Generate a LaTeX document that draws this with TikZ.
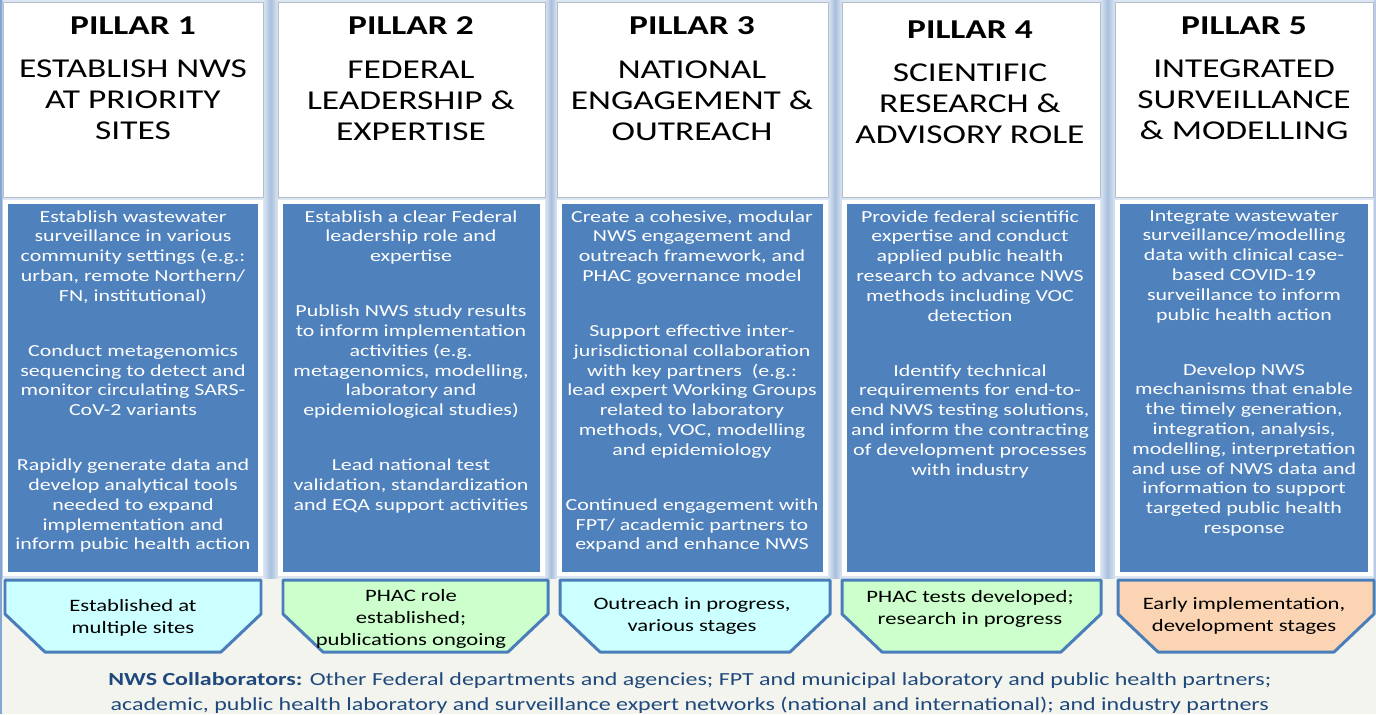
\documentclass[tikz,border=0pt]{standalone}
\usepackage{fontspec}
\setmainfont{Carlito}[FakeStretch=1.3]
\usepackage{tikz}

\definecolor{pillarblue}{HTML}{4F81BD}
\definecolor{gapblue}{HTML}{A9BFDD}
\definecolor{gaplight}{HTML}{DCE6F2}
\definecolor{badgeline}{HTML}{4A7EBB}
\definecolor{headline}{HTML}{B4BECB}
\definecolor{cyanfill}{HTML}{CCFFFF}
\definecolor{greenfill}{HTML}{CCFFCC}
\definecolor{peachfill}{HTML}{FBD4B4}
\definecolor{collabtext}{HTML}{1F497D}
\definecolor{cream}{HTML}{F3F4EE}

\begin{document}
\begin{tikzpicture}[every text node part/.style={align=center},
    header/.style={anchor=north, inner sep=0pt, font=\fontsize{15.5}{17.6}\selectfont},
    bodytext/.style={anchor=north, inner sep=0pt, text=white, font=\fontsize{9.6}{11.27}\selectfont},
    badgetext/.style={inner sep=0pt, font=\fontsize{9.9}{12.6}\selectfont},
    badge/.style={draw=badgeline, line width=1.7pt, line join=round},
    gapband/.style={left color=gaplight, right color=gaplight, middle color=gapblue}]
    \useasboundingbox (0, 0) rectangle (27.52, -14.28);
    \fill[cream] (0, 0) rectangle (27.52, -14.28);
    \fill[gaplight] (0, 0) rectangle (27.52, -11.56);
    \foreach \a/\b in {0/0.06, 5.26/5.56, 10.9/11.14, 16.56/16.84, 22/22.3, 27.46/27.52}
    \shade[gapband] (\a, 0) rectangle (\b, -11.56);
    \draw[pillarblue!70, line width=0.6pt] (0.02, 0) -- (0.02, -14.28);
    % columns
    \foreach \l/\r in {0.06/5.26, 5.56/10.9, 11.14/16.56, 16.84/22, 22.3/27.46} {
    \draw[headline, fill=white, line width=0.4pt] (\l, -0.04) rectangle (\r, -3.94);
    \fill[white] (\l, -4) rectangle (\r, -11.52);
    \fill[pillarblue] (\l+0.1, -4.08) rectangle (\r-0.1, -11.44);
    }
    % badges
    \foreach \l/\r/\c in {0.1/5.22/cyanfill, 5.66/10.96/greenfill, 11.2/16.6/cyanfill, 16.84/22.02/greenfill, 22.36/27.48/peachfill}
    \draw[badge, fill=\c] (\l, -11.6) -- (\r, -11.6) -- (\r, -12.28) -- (\r-0.8, -13.04) -- (\l+0.8, -13.04) -- (\l, -12.28) -- cycle;
    \node (h1) [header] at (2.66, -0.32) {\textbf{PILLAR 1}\\[7.4pt] ESTABLISH NWS\\AT PRIORITY\\SITES};
    \node (h2) [header] at (8.22, -0.32) {\textbf{PILLAR 2}\\[7.4pt] FEDERAL\\LEADERSHIP \&\\EXPERTISE};
    \node (h3) [header] at (13.84, -0.32) {\textbf{PILLAR 3}\\[7.4pt] NATIONAL\\ENGAGEMENT \&\\OUTREACH};
    \node (h4) [header] at (19.4, -0.4) {\textbf{PILLAR 4}\\[7.4pt] SCIENTIFIC\\RESEARCH \&\\ADVISORY ROLE};
    \node (h5) [header] at (24.88, -0.32) {\textbf{PILLAR 5}\\[7.4pt] INTEGRATED\\SURVEILLANCE\\\& MODELLING};
    \node (t1) [bodytext] at (2.66, -4.2) {Establish wastewater\\surveillance in various\\community settings (e.g.:\\urban, remote Northern/\\FN, institutional)\\[20pt] Conduct metagenomics\\sequencing to detect and\\monitor circulating SARS-\\CoV-2 variants\\[20pt] Rapidly generate data and\\develop analytical tools\\needed to expand\\implementation and\\inform pubic health action};
    \node (t2) [bodytext] at (8.22, -4.2) {Establish a clear Federal\\leadership role and\\expertise\\[20pt] Publish NWS study results\\to inform implementation\\activities (e.g.\\metagenomics, modelling,\\laboratory and\\epidemiological studies)\\[20pt] Lead national test\\validation, standardization\\and EQA support activities};
    \node (t3) [bodytext] at (13.84, -4.2) {Create a cohesive, modular\\NWS engagement and\\outreach framework, and\\PHAC governance model\\[20pt] Support effective inter-\\jurisdictional collaboration\\with key partners\ \ (e.g.:\\lead expert Working Groups\\related to laboratory\\methods, VOC, modelling\\and epidemiology\\[20pt] Continued engagement with\\FPT/ academic partners to\\expand and enhance NWS};
    \node (t4) [bodytext] at (19.4, -4.2) {Provide federal scientific\\expertise and conduct\\applied public health\\research to advance NWS\\methods including VOC\\detection\\[20pt] Identify technical\\requirements for end-to-\\end NWS testing solutions,\\and inform the contracting\\of development processes\\with industry};
    \node (t5) [bodytext] at (24.88, -4.2) {Integrate wastewater\\surveillance/modelling\\data with clinical case-\\based COVID-19\\surveillance to inform\\public health action\\[20pt] Develop NWS\\mechanisms that enable\\the timely generation,\\integration, analysis,\\modelling, interpretation\\and use of NWS data and\\information to support\\targeted public health\\response};
    \node (s1) [badgetext] at (2.66, -12.35) {Established at\\multiple sites};
    \node (s2) [badgetext] at (8.22, -12.38) {PHAC role\\established;\\publications ongoing};
    \node (s3) [badgetext] at (13.84, -12.32) {Outreach in progress,\\various stages};
    \node (s4) [badgetext] at (19.4, -12.18) {PHAC tests developed;\\research in progress};
    \node (s5) [badgetext] at (24.88, -12.32) {Early implementation,\\development stages};
    \node (collab) [anchor=west, inner sep=0pt, align=left, text=collabtext, font=\fontsize{10.5}{13.7}\selectfont] at (2.16, -13.86) {\textbf{NWS Collaborators:} Other Federal departments and agencies; FPT and municipal laboratory and public health partners;\\academic, public health laboratory and surveillance expert networks (national and international); and industry partners};
  \end{tikzpicture}
\end{document}
